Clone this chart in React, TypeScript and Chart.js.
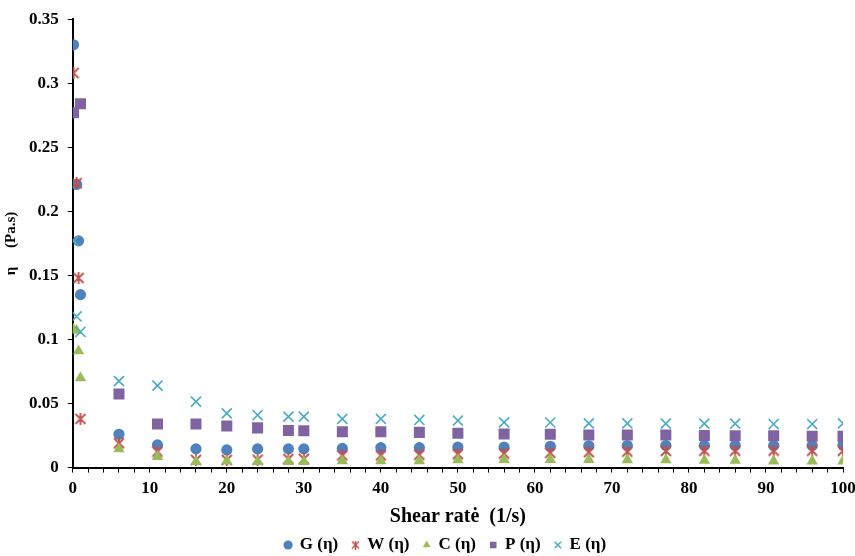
import React, { useEffect, useRef } from "react";
import { Chart, registerables } from "chart.js";

Chart.register(...registerables);

// Shear rate (1/s) shared by all series after the initial low-rate points
const tailRate = [6, 11, 16, 20, 24, 28, 30, 35, 40, 45, 50, 56, 62, 67, 72, 77, 82, 86, 91, 96, 100];

// Low shear-rate points per series
const earlyRateG = [0.1, 0.5, 0.75, 1];
const earlyRateW = [0.1, 0.5, 0.75, 1];
const earlyRateC = [0.1, 0.5, 0.75, 1];
const earlyRateP = [0.1, 1];
const earlyRateE = [0.1, 0.5, 1];

// Viscosity η (Pa.s)
const etaG = [0.33, 0.221, 0.177, 0.135,
  0.026, 0.0177, 0.0146, 0.0138, 0.0146, 0.0146, 0.0146, 0.015, 0.0156, 0.0156, 0.016, 0.016, 0.0166, 0.017, 0.0172, 0.0172, 0.0172, 0.0172, 0.0172, 0.0172, 0.0175];
const etaW = [0.308, 0.222, 0.148, 0.038,
  0.019, 0.0125, 0.006, 0.006, 0.0062, 0.0068, 0.0068, 0.0095, 0.0095, 0.01, 0.0105, 0.011, 0.0115, 0.012, 0.0125, 0.013, 0.0132, 0.0132, 0.0132, 0.0132, 0.0132];
const etaC = [0.108, 0.107, 0.091, 0.07,
  0.0145, 0.0085, 0.0047, 0.005, 0.0047, 0.0047, 0.0047, 0.0052, 0.0052, 0.0052, 0.006, 0.0062, 0.0062, 0.0062, 0.006, 0.006, 0.0055, 0.0055, 0.005, 0.005, 0.005];
const etaP = [0.277, 0.284,
  0.0575, 0.034, 0.034, 0.0325, 0.031, 0.029, 0.0288, 0.028, 0.028, 0.0275, 0.0268, 0.0263, 0.026, 0.0255, 0.0255, 0.0255, 0.025, 0.0248, 0.0248, 0.0245, 0.0245];
const etaE = [0.177, 0.118, 0.106,
  0.0675, 0.064, 0.0515, 0.0423, 0.041, 0.0398, 0.0398, 0.038, 0.038, 0.0372, 0.0367, 0.0353, 0.0352, 0.0345, 0.0345, 0.0343, 0.0343, 0.0343, 0.034, 0.034, 0.0345];

const seriesNames = ["G (η)", "W (η)", "C (η)", "P (η)", "E (η)"];
const seriesColors = ["#4F81BD", "#C0504D", "#9BBB59", "#8064A2", "#4BACC6"];

const FONT = "'Times New Roman', 'Liberation Serif', serif";

function toPoints(xs: number[], ys: number[]) {
  return ys.map((y, i) => ({ x: xs[i], y }));
}

function makeStar(color: string, size: number, lw: number) {
  const c = document.createElement("canvas");
  c.width = size;
  c.height = size;
  const ctx = c.getContext("2d")!;
  ctx.strokeStyle = color;
  ctx.lineWidth = lw;
  ctx.lineCap = "butt";
  const m = 1;
  ctx.beginPath();
  ctx.moveTo(m, m);
  ctx.lineTo(size - m, size - m);
  ctx.moveTo(size - m, m);
  ctx.lineTo(m, size - m);
  ctx.moveTo(size / 2, 0);
  ctx.lineTo(size / 2, size);
  ctx.stroke();
  return c;
}

export default function App() {
  const ref = useRef<HTMLCanvasElement | null>(null);

  useEffect(() => {
    if (!ref.current) return;
    const star = makeStar(seriesColors[1], 12, 1.8);
    const legendStar = makeStar(seriesColors[1], 9, 1.5);
    const legendShift = {
      id: "legendShift",
      afterLayout(chart: any) {
        const L = chart.legend;
        if (!L) return;
        const dx = 17;
        const h = L.bottom - L.top;
        const pad = L.options.labels.padding;
        const fs = 17;
        const top = 545 - pad - fs / 2;
        L.left += dx;
        L.right += dx;
        L.top = top;
        L.bottom = top + h;
      },
    };
    const chart = new Chart(ref.current, {
      type: "scatter",
      data: {
        datasets: [
          {
            label: seriesNames[0],
            data: toPoints([...earlyRateG, ...tailRate], etaG),
            order: 5,
            pointStyle: "circle",
            pointRadius: 5.6,
            backgroundColor: seriesColors[0],
            borderColor: seriesColors[0],
            borderWidth: 0,
          },
          {
            label: seriesNames[1],
            data: toPoints([...earlyRateW, ...tailRate], etaW),
            order: 4,
            pointStyle: star,
            pointRadius: 6,
            backgroundColor: seriesColors[1],
            borderColor: seriesColors[1],
          },
          {
            label: seriesNames[2],
            data: toPoints([...earlyRateC, ...tailRate], etaC),
            order: 3,
            pointStyle: "triangle",
            pointRadius: 6.6,
            backgroundColor: seriesColors[2],
            borderColor: seriesColors[2],
            borderWidth: 0,
          },
          {
            label: seriesNames[3],
            data: toPoints([...earlyRateP, ...tailRate], etaP),
            order: 2,
            pointStyle: "rect",
            pointRadius: 7.8,
            backgroundColor: seriesColors[3],
            borderColor: seriesColors[3],
            borderWidth: 0,
          },
          {
            label: seriesNames[4],
            data: toPoints([...earlyRateE, ...tailRate], etaE),
            order: 1,
            pointStyle: "crossRot",
            pointRadius: 7.1,
            backgroundColor: seriesColors[4],
            borderColor: seriesColors[4],
            borderWidth: 1.6,
          },
        ],
      },
      options: {
        responsive: false,
        animation: false,
        layout: { padding: { top: 10, right: 0, left: 2, bottom: -14 } },
        plugins: {
          tooltip: { enabled: false },
          legend: {
            position: "bottom",
            labels: {
              usePointStyle: true,
              boxWidth: 6.5,
              boxHeight: 6.5,
              padding: 14,
              color: "#000",
              font: { family: FONT, size: 17, weight: "bold" },
              sort: (a: any, b: any) => a.datasetIndex - b.datasetIndex,
              generateLabels: (c: any) => {
                const items = Chart.defaults.plugins.legend.labels.generateLabels(c);
                return items.map((it: any) => (it.datasetIndex === 1 ? { ...it, pointStyle: legendStar } : it));
              },
            },
          },
        },
        scales: {
          x: {
            type: "linear",
            min: 0,
            max: 100,
            afterFit: (scale: any) => {
              scale.paddingRight = 12;
            },
            grid: {
              display: true,
              drawOnChartArea: false,
              drawTicks: true,
              tickLength: 5,
              color: "#000",
              lineWidth: 1,
            },
            border: { display: true, color: "#000", width: 2 },
            ticks: {
              stepSize: 2,
              autoSkip: false,
              maxRotation: 0,
              minRotation: 0,
              padding: 6,
              color: "#000",
              font: { family: FONT, size: 17, weight: "bold" },
              callback: (v: any) => (Math.round(Number(v)) % 10 === 0 ? String(Math.round(Number(v))) : ""),
            },
            title: {
              display: true,
              text: "Shear ratė  (1/s)",
              color: "#000",
              font: { family: FONT, size: 20, weight: "bold" },
              padding: { top: 0, bottom: 0 },
            },
          },
          y: {
            type: "linear",
            min: 0,
            max: 0.35,
            grid: {
              display: true,
              drawOnChartArea: false,
              drawTicks: true,
              tickLength: 5,
              color: "#000",
              lineWidth: 1,
            },
            border: { display: true, color: "#000", width: 2 },
            ticks: {
              stepSize: 0.05,
              padding: 9,
              color: "#000",
              font: { family: FONT, size: 17, weight: "bold" },
              callback: (v: any) => String(Number(Number(v).toFixed(2))),
            },
            title: {
              display: true,
              text: "η     (Pa.s)",
              color: "#000",
              font: { family: FONT, size: 15, weight: "bold" },
              padding: { top: 0, bottom: 0 },
            },
          },
        },
      },
      plugins: [legendShift],
    });
    return () => chart.destroy();
  }, []);

  return (
    <div style={{ position: "absolute", left: 0, top: 0, width: 855, height: 556 }}>
      <canvas ref={ref} width={855} height={556} style={{ display: "block" }} />
    </div>
  );
}
